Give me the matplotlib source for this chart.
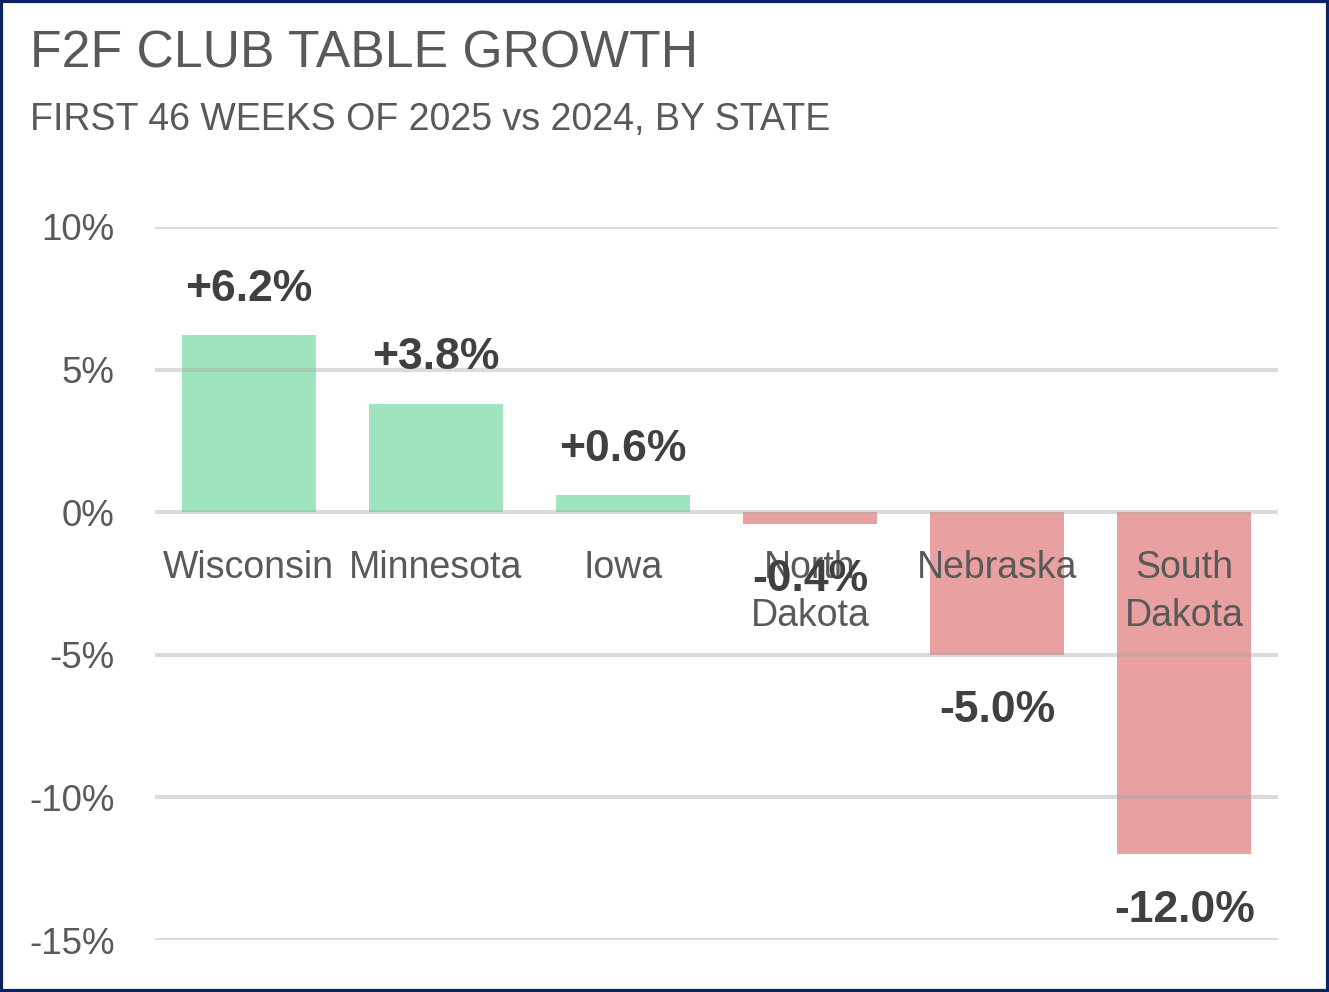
import matplotlib.pyplot as plt
from matplotlib.patches import Rectangle

# data
STATES = ['Wisconsin', 'Minnesota', 'Iowa', 'North\nDakota', 'Nebraska', 'South\nDakota']
GROWTH = [6.2, 3.8, 0.6, -0.4, -5.0, -12.0]
YTICKS = [10, 5, 0, -5, -10, -15]

TITLE = 'F2F CLUB TABLE GROWTH'
SUBTITLE = 'FIRST 46 WEEKS OF 2025 vs 2024, BY STATE'

# styles
GREEN = '#a0e3bf'
RED = '#e8a1a0'
TEXT = '#595959'
LABEL = '#404040'
BORDER = '#0a2463'
FONT = 'Liberation Sans'

plt.rcParams['font.family'] = FONT

fig = plt.figure(figsize=(13.29, 9.92), dpi=100)
ax = fig.add_axes([155 / 1329, 52 / 992, (1278 - 155) / 1329, (940 - 227) / 992])

x = list(range(len(STATES)))
colors = [GREEN if v >= 0 else RED for v in GROWTH]
ax.bar(x, GROWTH, width=0.716, color=colors, zorder=2)

# gridlines drawn over the bars, semi transparent
for y in YTICKS:
    ax.axhline(y, color='#a6a6a6', lw=3, alpha=0.4, zorder=3)

# value labels
for xi, v in zip(x, GROWTH):
    txt = '%+.1f%%' % v
    off = 46 if v >= 0 else -56
    ax.annotate(txt, (xi, v), xytext=(0, off), textcoords='offset pixels',
                ha='center', va='center', fontsize=32, fontweight='bold', color=LABEL, zorder=5)

# category labels below zero line
for xi, name in zip(x, STATES):
    ax.annotate(name, (xi, 0), xytext=(0, -38), textcoords='offset pixels',
                ha='center', va='top', fontsize=27, color=TEXT, linespacing=1.42, zorder=4)

ax.set_xlim(-0.5, len(STATES) - 0.5)
ax.set_ylim(-15, 10)
ax.set_xticks([])
ax.set_yticks(YTICKS)
ax.set_yticklabels(['%d%%' % t for t in YTICKS])
ax.tick_params(axis='y', length=0, pad=29, labelsize=26.5, labelcolor=TEXT)
for s in ax.spines.values():
    s.set_visible(False)
ax.patch.set_alpha(0)

fig.text(30 / 1329, 1 - 68 / 992, TITLE, fontsize=37.3, color=TEXT, va='baseline', ha='left')
fig.text(30 / 1329, 1 - 130 / 992, SUBTITLE, fontsize=27, color=TEXT, va='baseline', ha='left')

fig.patches.append(Rectangle((0.001, 0.0015), 0.998, 0.997, transform=fig.transFigure,
                             fill=False, edgecolor=BORDER, lw=3))

fig.savefig('out.png', dpi=100)
